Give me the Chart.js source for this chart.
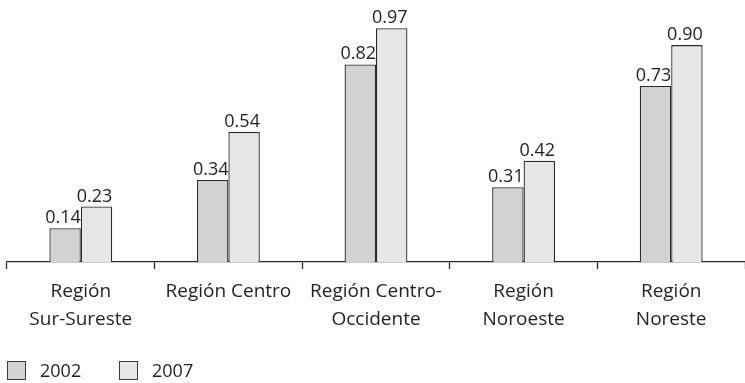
<!DOCTYPE html>
<html>
<head>
<meta charset="utf-8">
<script src="https://cdn.jsdelivr.net/npm/chart.js@4.4.1/dist/chart.umd.min.js"></script>
<style>
  html, body { margin: 0; padding: 0; background: #ffffff; }
  #wrap { width: 745px; height: 383px; position: relative; }
</style>
</head>
<body>
<div id="wrap"><canvas id="chart"></canvas></div>
<script>
// Regions and their values for each year
const categories = [
  ['Región', 'Sur-Sureste'],
  'Región Centro',
  ['Región Centro-', 'Occidente'],
  ['Región', 'Noroeste'],
  ['Región', 'Noreste']
];
const seriesNames = ['2002', '2007'];
const values2002 = [0.14, 0.34, 0.82, 0.31, 0.73];
const values2007 = [0.23, 0.54, 0.97, 0.42, 0.90];

const FONT = '"Open Sans", "DejaVu Sans", sans-serif';
const INK = '#231f20';
const fills = ['#d2d2d3', '#e6e6e7'];

// Value printed above each bar
const valueLabels = {
  id: 'valueLabels',
  afterDatasetsDraw(chart) {
    const ctx = chart.ctx;
    ctx.save();
    ctx.font = '18px ' + FONT;
    ctx.fillStyle = INK;
    ctx.textAlign = 'center';
    ctx.textBaseline = 'alphabetic';
    chart.data.datasets.forEach((ds, i) => {
      chart.getDatasetMeta(i).data.forEach((bar, j) => {
        ctx.fillText(ds.data[j].toFixed(2), bar.x - 2, bar.y - 5);
      });
    });
    ctx.restore();
  }
};

// Legend row along the bottom-left
const bottomLegend = {
  id: 'bottomLegend',
  afterDraw(chart) {
    const ctx = chart.ctx;
    const xs = [7, 119];
    const y = 361;
    ctx.save();
    ctx.font = '18px ' + FONT;
    ctx.textBaseline = 'middle';
    ctx.textAlign = 'left';
    chart.data.datasets.forEach((ds, i) => {
      ctx.fillStyle = ds.backgroundColor;
      ctx.fillRect(xs[i] + 0.5, y + 0.5, 18, 18);
      ctx.strokeStyle = '#3a3a3a';
      ctx.lineWidth = 1;
      ctx.strokeRect(xs[i] + 0.5, y + 0.5, 18, 18);
      ctx.fillStyle = INK;
      ctx.fillText(ds.label, xs[i] + 33, y + 11);
    });
    ctx.restore();
  }
};

new Chart(document.getElementById('chart'), {
  type: 'bar',
  data: {
    labels: categories,
    datasets: [
      { label: seriesNames[0], data: values2002, backgroundColor: fills[0] },
      { label: seriesNames[1], data: values2007, backgroundColor: fills[1] }
    ]
  },
  options: {
    responsive: true,
    maintainAspectRatio: false,
    animation: false,
    layout: { padding: { top: 21, left: 7, right: 0, bottom: 41 } },
    datasets: {
      bar: {
        borderColor: '#2b2b2b',
        borderWidth: 1.3,
        categoryPercentage: 0.426,
        barPercentage: 1.0
      }
    },
    plugins: {
      legend: { display: false },
      tooltip: { enabled: false }
    },
    scales: {
      y: { display: false, min: 0, max: 1 },
      x: {
        border: { display: true, color: '#2b2b2b', width: 1.3 },
        grid: {
          display: true,
          offset: true,
          drawOnChartArea: false,
          drawTicks: true,
          tickLength: 7,
          tickColor: '#2b2b2b',
          tickWidth: 1.3
        },
        ticks: {
          color: INK,
          font: { family: FONT, size: 19, lineHeight: 1.5 },
          padding: 8,
          maxRotation: 0,
          autoSkip: false
        }
      }
    }
  },
  plugins: [valueLabels, bottomLegend]
});
</script>
</body>
</html>
